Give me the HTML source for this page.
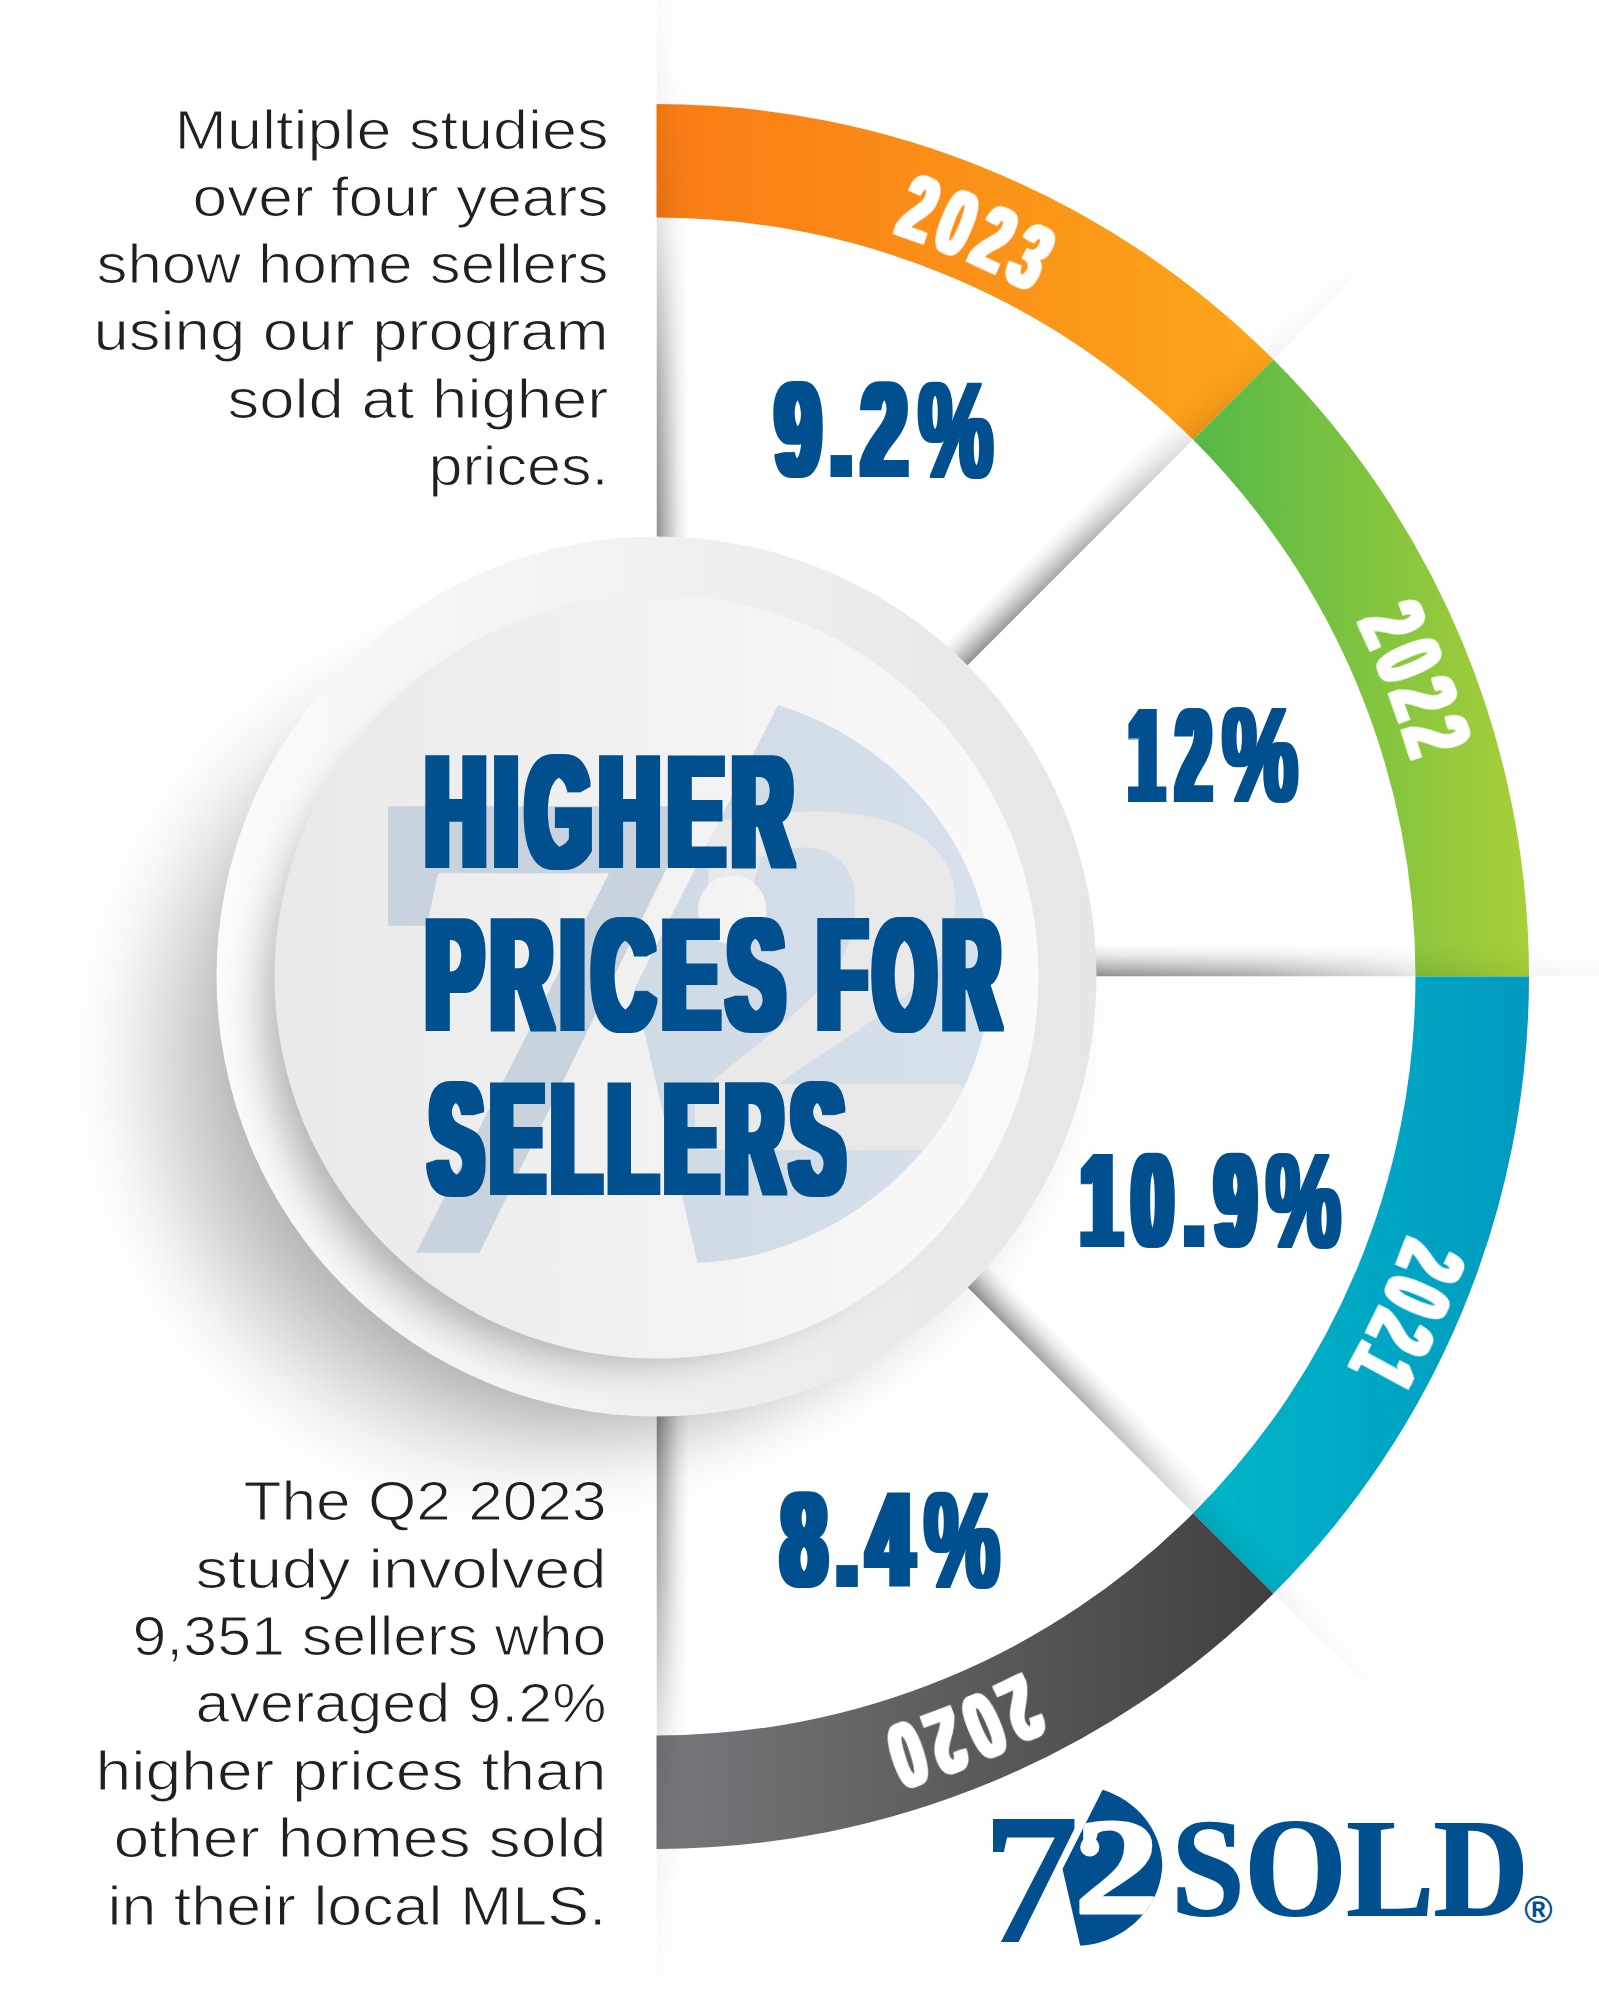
<!DOCTYPE html>
<html lang="en"><head><meta charset="utf-8"><title>Higher Prices For Sellers</title>
<style>
html,body{margin:0;padding:0;background:#fff}
svg{display:block}
.b{font-family:"Liberation Sans",sans-serif;font-weight:700}
.p{font-family:"Liberation Sans",sans-serif;font-weight:400;fill:#231f20;stroke:#fff;stroke-width:1.1px}
.s{font-family:"Liberation Serif",serif;font-weight:700}
</style></head><body>
<svg width="1599" height="2000" viewBox="0 0 1599 2000">
<defs>
<linearGradient id="gO" gradientUnits="userSpaceOnUse" x1="657" x2="1273" y1="0" y2="0"><stop offset="0" stop-color="#f97b15"/><stop offset="1" stop-color="#fca61a"/></linearGradient>
<linearGradient id="gG" gradientUnits="userSpaceOnUse" x1="1193" x2="1529" y1="0" y2="0"><stop offset="0" stop-color="#55b848"/><stop offset="1" stop-color="#a8cf38"/></linearGradient>
<linearGradient id="gT" gradientUnits="userSpaceOnUse" x1="1193" x2="1529" y1="0" y2="0"><stop offset="0" stop-color="#00b6c9"/><stop offset="1" stop-color="#009abf"/></linearGradient>
<linearGradient id="gK" gradientUnits="userSpaceOnUse" x1="657" x2="1273" y1="0" y2="0"><stop offset="0" stop-color="#77787b"/><stop offset="1" stop-color="#3f3f3f"/></linearGradient>
<linearGradient id="dv" x1="0" x2="0" y1="1" y2="0"><stop offset="0" stop-color="#000" stop-opacity=".45"/><stop offset=".3" stop-color="#000" stop-opacity=".28"/><stop offset=".65" stop-color="#000" stop-opacity=".1"/><stop offset="1" stop-color="#000" stop-opacity="0"/></linearGradient>
<linearGradient id="dvm" x1="0" x2="1" y1="0" y2="0"><stop offset="0" stop-color="#fff"/><stop offset=".274" stop-color="#fff" stop-opacity=".72"/><stop offset=".435" stop-color="#fff" stop-opacity=".42"/><stop offset=".532" stop-color="#fff" stop-opacity=".22"/><stop offset=".713" stop-color="#fff" stop-opacity=".09"/><stop offset="1" stop-color="#fff" stop-opacity="0"/></linearGradient>
<mask id="mk" maskContentUnits="objectBoundingBox"><rect x="0" y="0" width="1" height="1" fill="url(#dvm)"/></mask>
<linearGradient id="gOut" x1="0" x2="1" y1="0" y2="0"><stop offset="0" stop-color="#fbfbfb"/><stop offset="1" stop-color="#e6e6e6"/></linearGradient>
<linearGradient id="gIn" x1="0" x2="1" y1="0" y2="0"><stop offset="0" stop-color="#e9e9e9"/><stop offset="1" stop-color="#fafafa"/></linearGradient>
<filter id="sh1" x="-40%" y="-40%" width="180%" height="180%"><feGaussianBlur stdDeviation="50"/></filter>
<filter id="sh3" x="-40%" y="-40%" width="180%" height="180%"><feGaussianBlur stdDeviation="28"/></filter>
<filter id="sh2" x="-40%" y="-40%" width="180%" height="180%"><feGaussianBlur stdDeviation="22"/></filter>
<filter id="fat" x="-5%" y="-10%" width="110%" height="120%"><feMorphology operator="dilate" radius="6 1.5"/></filter>
<filter id="fat2" x="-5%" y="-10%" width="110%" height="120%"><feMorphology operator="dilate" radius="5 1.2"/></filter>
<filter id="fatp" x="-5%" y="-10%" width="110%" height="120%"><feMorphology operator="dilate" radius="2.5 0.6"/></filter>
<filter id="fat3" x="-10%" y="-20%" width="120%" height="140%"><feMorphology operator="dilate" radius="3 0.8"/></filter>
<filter id="fat4" x="-5%" y="-10%" width="110%" height="120%"><feMorphology operator="dilate" radius="0.8 0.4"/></filter>
<clipPath id="sail"><path d="M1102.6 1789.8L1062.5 1869.1L1080.1 1945.6C1118 1944.5 1160.5 1913 1162.3 1865C1161 1828 1135 1800 1102.6 1789.8Z"/></clipPath>
<clipPath id="cIn"><circle cx="656.5" cy="976.5" r="382"/></clipPath>
<clipPath id="cOut"><circle cx="656.5" cy="976.5" r="440"/></clipPath>
</defs>
<rect width="1599" height="2000" fill="#fff"/>

<path d="M656.50 104.00A872.5 872.5 0 0 1 1273.45 359.55L1193.19 439.81A759.0 759.0 0 0 0 656.50 217.50Z" fill="url(#gO)"/>
<path d="M1273.45 359.55A872.5 872.5 0 0 1 1529.00 976.50L1415.50 976.50A759.0 759.0 0 0 0 1193.19 439.81Z" fill="url(#gG)"/>
<path d="M1529.00 976.50A872.5 872.5 0 0 1 1273.45 1593.45L1193.19 1513.19A759.0 759.0 0 0 0 1415.50 976.50Z" fill="url(#gT)"/>
<path d="M1273.45 1593.45A872.5 872.5 0 0 1 656.50 1849.00L656.50 1735.50A759.0 759.0 0 0 0 1193.19 1513.19Z" fill="url(#gK)"/>
<g transform="translate(656.5 976.5) rotate(-45)"><rect x="430" y="-32" width="620" height="32" fill="url(#dv)" mask="url(#mk)"/></g>
<g transform="translate(656.5 976.5) rotate(0)"><rect x="430" y="-32" width="620" height="32" fill="url(#dv)" mask="url(#mk)"/></g>
<g transform="translate(656.5 976.5) rotate(45)"><rect x="430" y="-32" width="620" height="32" fill="url(#dv)" mask="url(#mk)"/></g>
<g transform="translate(656.5 976.5) rotate(90)"><rect x="430" y="-32" width="620" height="32" fill="url(#dv)" mask="url(#mk)"/></g>
<g transform="translate(656.5 976.5) rotate(-90) scale(1 -1)"><rect x="430" y="-32" width="620" height="32" fill="url(#dv)" mask="url(#mk)"/></g>
<circle cx="541.5" cy="1058.5" r="383" fill="#000" opacity="0.245" filter="url(#sh1)"/>
<circle cx="651.5" cy="1014.5" r="415" fill="#000" opacity="0.1" filter="url(#sh3)"/>
<circle cx="656.5" cy="976.5" r="440" fill="url(#gOut)"/>
<g clip-path="url(#cOut)"><circle cx="618.5" cy="1008.5" r="352" fill="#000" opacity="0.3" filter="url(#sh2)"/></g>
<circle cx="656.5" cy="976.5" r="382" fill="url(#gIn)"/>
<linearGradient id="gIn2" gradientUnits="userSpaceOnUse" x1="274.5" x2="1038.5" y1="0" y2="0" gradientTransform="scale(0.279330) translate(3169.31 5702.48)"><stop offset="0" stop-color="#e9e9e9"/><stop offset="1" stop-color="#fafafa"/></linearGradient>
<linearGradient id="gWm" gradientUnits="userSpaceOnUse" x1="274.5" x2="1038.5" y1="0" y2="0" gradientTransform="scale(0.279330) translate(3169.31 5702.48)"><stop offset="0" stop-color="#c8d3de"/><stop offset="1" stop-color="#d7e2ed"/></linearGradient>
<g transform="translate(-3169.31 -5702.48) scale(3.58)"><path d="M1102.6 1789.8L1062.5 1869.1L1080.1 1945.6C1118 1944.5 1160.5 1913 1162.3 1865C1161 1828 1135 1800 1102.6 1789.8Z" fill="url(#gWm)"/><text class="s" style="font-weight:400" transform="translate(0.6 -36.9) scale(1 1.019) translate(983.3 1940.3) scale(1.048 1)" font-size="179.3" fill="url(#gWm)" stroke="url(#gWm)" stroke-width="5">7</text><g clip-path="url(#sail)"><text class="s" transform="translate(1074.2 1912.5) scale(1.24 1)" font-size="138" fill="url(#gIn2)" stroke="url(#gIn2)" stroke-width="3.2" stroke-linejoin="round">2</text><circle cx="1089.8" cy="1847" r="9.6" fill="url(#gIn2)"/></g></g>
<g filter="url(#fat)"><text transform="translate(425.79 865.80) scale(0.5312 1)" font-size="156.98" letter-spacing="16" fill="#024f8f" class="b">HIGHER</text></g>
<g filter="url(#fat)"><text transform="translate(425.91 1028.90) scale(0.5371 1)" font-size="157.56" letter-spacing="16" fill="#024f8f" class="b">PRICES</text></g>
<g filter="url(#fat)"><text transform="translate(817.89 1028.90) scale(0.4990 1)" font-size="157.56" letter-spacing="16" fill="#024f8f" class="b">FOR</text></g>
<g filter="url(#fat)"><text transform="translate(429.76 1192.50) scale(0.5012 1)" font-size="158.43" letter-spacing="16" fill="#024f8f" class="b">SELLERS</text></g>
<g filter="url(#fat2)"><text transform="translate(775.45 476.30) scale(0.6117 1)" font-size="133.14" letter-spacing="15" fill="#024f8f" class="b">9.2</text></g><g filter="url(#fatp)"><text transform="translate(918.59 476.90) scale(0.6222 1)" font-size="134.85" letter-spacing="0.0" fill="#024f8f" class="b">%</text></g>
<g filter="url(#fat2)"><text transform="translate(1129.20 800.80) scale(0.4586 1)" font-size="132.43" letter-spacing="30" fill="#024f8f" class="b">12</text></g><g filter="url(#fatp)"><text transform="translate(1222.48 801.40) scale(0.6307 1)" font-size="134.14" letter-spacing="0.0" fill="#024f8f" class="b">%</text></g>
<g filter="url(#fat2)"><text transform="translate(1080.74 1246.30) scale(0.5507 1)" font-size="132.43" letter-spacing="20" fill="#024f8f" class="b">10.9</text></g><g filter="url(#fatp)"><text transform="translate(1266.19 1246.90) scale(0.6246 1)" font-size="134.14" letter-spacing="0.0" fill="#024f8f" class="b">%</text></g>
<g filter="url(#fat2)"><text transform="translate(781.15 1586.30) scale(0.6129 1)" font-size="133.14" letter-spacing="15" fill="#024f8f" class="b">8.4</text></g><g filter="url(#fatp)"><text transform="translate(924.17 1586.90) scale(0.6299 1)" font-size="134.85" letter-spacing="0.0" fill="#024f8f" class="b">%</text></g>
<g transform="translate(656.5 976.5) rotate(23.45)" filter="url(#fat3)"><path id="yp0" d="M-188.65 -756.64A779.8 779.8 0 0 1 188.65 -756.64" fill="none"/><text class="b" font-size="91.6" fill="#fff" text-anchor="middle" letter-spacing="13"><textPath href="#yp0" startOffset="50%" textLength="156" lengthAdjust="spacingAndGlyphs">2023</textPath></text></g>
<g transform="translate(656.5 976.5) rotate(68.90)" filter="url(#fat3)"><path id="yp1" d="M-189.86 -761.49A784.8 784.8 0 0 1 189.86 -761.49" fill="none"/><text class="b" font-size="91.6" fill="#fff" text-anchor="middle" letter-spacing="13"><textPath href="#yp1" startOffset="50%" textLength="155" lengthAdjust="spacingAndGlyphs">2022</textPath></text></g>
<g transform="translate(656.5 976.5) rotate(114.50)" filter="url(#fat3)"><path id="yp2" d="M-192.04 -770.22A793.8 793.8 0 0 1 192.04 -770.22" fill="none"/><text class="b" font-size="91.6" fill="#fff" text-anchor="middle" letter-spacing="13"><textPath href="#yp2" startOffset="50%" textLength="149" lengthAdjust="spacingAndGlyphs">2021</textPath></text></g>
<g transform="translate(656.5 976.5) rotate(158.10)" filter="url(#fat3)"><path id="yp3" d="M-190.20 -762.85A786.2 786.2 0 0 1 190.20 -762.85" fill="none"/><text class="b" font-size="91.6" fill="#fff" text-anchor="middle" letter-spacing="13"><textPath href="#yp3" startOffset="50%" textLength="157" lengthAdjust="spacingAndGlyphs">2020</textPath></text></g>
<text class="p" x="608.5" y="148.5" font-size="55" text-anchor="end" textLength="434" lengthAdjust="spacingAndGlyphs">Multiple studies</text>
<text class="p" x="608.5" y="215.8" font-size="55" text-anchor="end" textLength="416" lengthAdjust="spacingAndGlyphs">over four years</text>
<text class="p" x="608.5" y="283.1" font-size="55" text-anchor="end" textLength="512" lengthAdjust="spacingAndGlyphs">show home sellers</text>
<text class="p" x="608.5" y="350.4" font-size="55" text-anchor="end" textLength="515" lengthAdjust="spacingAndGlyphs">using our program</text>
<text class="p" x="608.5" y="417.7" font-size="55" text-anchor="end" textLength="381" lengthAdjust="spacingAndGlyphs">sold at higher</text>
<text class="p" x="608.5" y="485.0" font-size="55" text-anchor="end" textLength="180" lengthAdjust="spacingAndGlyphs">prices.</text>
<text class="p" x="606.5" y="1520.2" font-size="55" text-anchor="end" textLength="363" lengthAdjust="spacingAndGlyphs">The Q2 2023</text>
<text class="p" x="606.5" y="1587.6" font-size="55" text-anchor="end" textLength="411" lengthAdjust="spacingAndGlyphs">study involved</text>
<text class="p" x="606.5" y="1655.0" font-size="55" text-anchor="end" textLength="474" lengthAdjust="spacingAndGlyphs">9,351 sellers who</text>
<text class="p" x="606.5" y="1722.4" font-size="55" text-anchor="end" textLength="411" lengthAdjust="spacingAndGlyphs">averaged 9.2%</text>
<text class="p" x="606.5" y="1789.8" font-size="55" text-anchor="end" textLength="511" lengthAdjust="spacingAndGlyphs">higher prices than</text>
<text class="p" x="606.5" y="1857.2" font-size="55" text-anchor="end" textLength="493" lengthAdjust="spacingAndGlyphs">other homes sold</text>
<text class="p" x="606.5" y="1924.6" font-size="55" text-anchor="end" textLength="499" lengthAdjust="spacingAndGlyphs">in their local MLS.</text>
<g transform="translate(0.00 0.00) scale(1)"><path d="M1102.6 1789.8L1062.5 1869.1L1080.1 1945.6C1118 1944.5 1160.5 1913 1162.3 1865C1161 1828 1135 1800 1102.6 1789.8Z" fill="#024f8f"/><text class="s" style="font-weight:400" transform="translate(983.3 1940.3) scale(1.048 1)" font-size="179.3" fill="#024f8f" stroke="#024f8f" stroke-width="5">7</text><g clip-path="url(#sail)"><text class="s" transform="translate(1074.2 1912.5) scale(1.24 1)" font-size="138" fill="#fff" stroke="#fff" stroke-width="3.2" stroke-linejoin="round">2</text><circle cx="1089.8" cy="1847" r="9.6" fill="#fff"/></g></g>
<g filter="url(#fat4)"><text class="s" x="1171.5" y="1916" font-size="141" fill="#024f8f" textLength="357" lengthAdjust="spacingAndGlyphs">SOLD</text></g>
<text class="b" x="1538.5" y="1922.8" font-size="38.5" text-anchor="middle" fill="#024f8f">®</text>
</svg></body></html>
